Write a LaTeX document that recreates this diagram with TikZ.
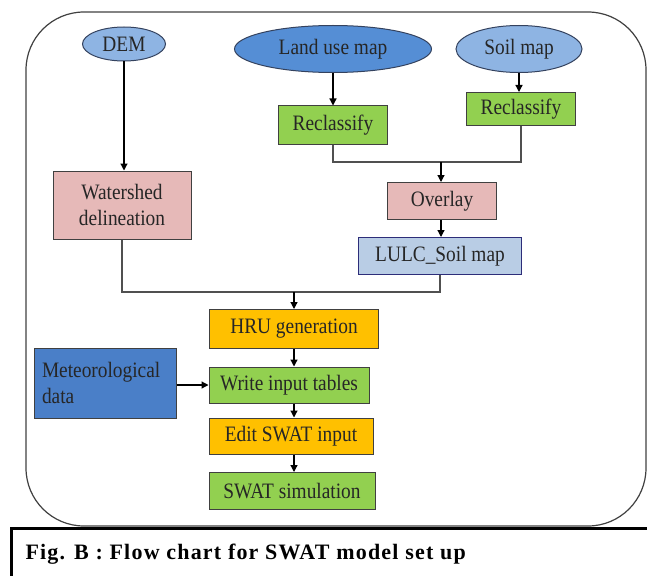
\documentclass[tikz,border=0pt]{standalone}
\usepackage{fontspec}
\setmainfont{Liberation Serif}[FakeStretch=0.88]
\newfontfamily\capfont{Liberation Serif}[LetterSpace=5.5]
\usetikzlibrary{shapes.geometric,arrows.meta}
\definecolor{ellLight}{HTML}{8EB4E3}
\definecolor{ellDark}{HTML}{558ED5}
\definecolor{ellLine}{HTML}{34425E}
\definecolor{boxGreen}{HTML}{92D050}
\definecolor{boxPink}{HTML}{E6B9B8}
\definecolor{boxLblue}{HTML}{B9CDE5}
\definecolor{boxOrange}{HTML}{FFC000}
\definecolor{boxBlue}{HTML}{4A7FC8}
\definecolor{boxLine}{HTML}{404040}
\definecolor{conLine}{HTML}{505050}
\tikzset{
  every node/.style={font=\fontsize{22}{26}\selectfont, text=black!85},
  ell/.style={ellipse, draw=ellLine, line width=1pt, inner sep=0pt},
  box/.style={rectangle, draw=boxLine, line width=1pt, inner sep=0pt, align=center},
  arr/.style={-{Triangle[length=7pt,width=7pt]}, line width=1.2pt, black},
  con/.style={line width=1.2pt, conLine},
}
\begin{document}
\begin{tikzpicture}[x=1pt,y=-1pt]
\useasboundingbox (0,0) rectangle (647,575);
% outer frame
\draw[line width=1.2pt, black!75] (26,12) [rounded corners=58pt] -- (646,12) -- (646,526) -- (26,526) -- cycle;
% caption box
\draw[line width=3pt, black] (660,528) -- (11,528) -- (11,590);
\node[anchor=base west, font=\fontsize{22}{26}\capfont\bfseries, text=black] (cap) at (22,559) {Fig. B : Flow chart for SWAT model set up};
% ellipses
\node[ell, fill=ellLight, minimum width=83pt, minimum height=34pt] (dem) at (124,44) {DEM};
\node[ell, fill=ellDark, minimum width=197pt, minimum height=47pt] (land) at (333,49) {Land use map};
\node[ell, fill=ellLight, minimum width=126pt, minimum height=47pt] (soil) at (519,49) {Soil map};
% boxes
\node[box, fill=boxGreen, minimum width=109pt, minimum height=38pt] (rec1) at (333,125) {Reclassify};
\node[box, fill=boxGreen, minimum width=109pt, minimum height=33pt] (rec2) at (521,109) {Reclassify};
\node[box, fill=boxPink, minimum width=138pt, minimum height=68pt] (ws) at (122,205) {Watershed\\delineation};
\node[box, fill=boxPink, minimum width=109pt, minimum height=37pt] (ov) at (442,201) {Overlay};
\node[box, fill=boxLblue, draw=boxLine!70!blue, minimum width=163pt, minimum height=37pt] (lulc) at (440,256) {LULC\_Soil map};
\node[box, fill=boxOrange, minimum width=169pt, minimum height=39pt] (hru) at (294,329) {HRU generation};
\node[box, fill=boxBlue, minimum width=142pt, minimum height=70pt, text width=126pt, align=left] (met) at (105,383) {Meteorological\\data};
\node[box, fill=boxGreen, minimum width=160pt, minimum height=36pt] (wit) at (289,385) {Write input tables};
\node[box, fill=boxOrange, minimum width=164pt, minimum height=36pt] (edit) at (291,436) {Edit SWAT input};
\node[box, fill=boxGreen, minimum width=166pt, minimum height=37pt] (sim) at (292,491) {SWAT simulation};
% connectors
\draw[arr] (dem.south) -- (dem.south |- ws.north);
\draw[arr] (land.south) -- (rec1.north);
\draw[arr] (soil.south) -- (soil.south |- rec2.north);
\coordinate (j1) at (441,162);
\draw[con] (rec1.south) |- (j1) -| (rec2.south);
\draw[arr] (j1) -- (j1 |- ov.north);
\draw[arr] (ov.south -| j1) -- (j1 |- lulc.north);
\coordinate (j2) at (294,292);
\draw[con] (ws.south) |- (j2) -| (lulc.south);
\draw[arr] (j2) -- (j2 |- hru.north);
\draw[arr] (j2 |- hru.south) -- (j2 |- wit.north);
\draw[arr] (met.east |- wit.west) -- (wit.west);
\draw[arr] (j2 |- wit.south) -- (j2 |- edit.north);
\draw[arr] (j2 |- edit.south) -- (j2 |- sim.north);
\end{tikzpicture}
\end{document}
